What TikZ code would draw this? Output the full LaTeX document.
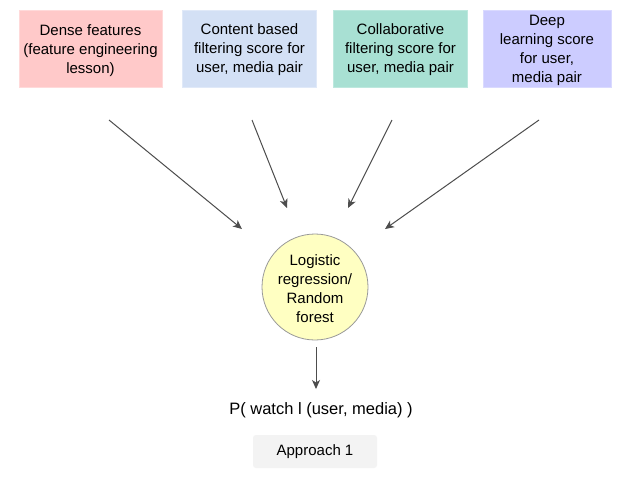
\documentclass[tikz,border=0pt]{standalone}
\usepackage{fontspec}
\setmainfont{Liberation Sans}
\usetikzlibrary{arrows.meta}
\definecolor{boxA}{HTML}{FFC9C9}
\definecolor{boxAb}{HTML}{FFDADA}
\definecolor{boxB}{HTML}{D3E0F5}
\definecolor{boxBb}{HTML}{E0E9F8}
\definecolor{boxC}{HTML}{A8E0D3}
\definecolor{boxCb}{HTML}{BDE8DE}
\definecolor{boxD}{HTML}{CCCCFF}
\definecolor{boxDb}{HTML}{DADAFF}
\definecolor{circ}{HTML}{FFFFC2}
\definecolor{circb}{HTML}{999999}
\definecolor{arr}{HTML}{4D4D4D}
\definecolor{apprbg}{HTML}{F3F3F3}
\tikzset{
  srcbox/.style={rectangle, inner sep=0pt, align=center, font=\fontsize{15}{19}\selectfont, line width=0.8pt},
  conn/.style={draw=arr, line width=1pt, -{Stealth[length=9pt,width=8pt,inset=2.5pt]}},
}
\begin{document}
\begin{tikzpicture}[x=1pt,y=-1pt]
\useasboundingbox (0,0) rectangle (629,483);
\fill[white] (0,0) rectangle (629,483);
% source boxes
\node[srcbox, fill=boxA, draw=boxAb, minimum width=143pt, minimum height=77pt] (b1) at (90.5,48.5) {};
\node[align=center, font=\fontsize{15}{19}\selectfont] (t1) at (90.5,51) {Dense features\\(feature engineering\\lesson)};
\node[srcbox, fill=boxB, draw=boxBb, minimum width=134pt, minimum height=77pt] (b2) at (249.5,48.5) {};
\node[align=center, font=\fontsize{15}{19}\selectfont] (t2) at (249.5,50) {Content based\\filtering score for\\user, media pair};
\node[srcbox, fill=boxC, draw=boxCb, minimum width=134pt, minimum height=77pt] (b3) at (400.5,48.5) {};
\node[align=center, font=\fontsize{15}{19}\selectfont] (t3) at (400.5,50) {Collaborative\\filtering score for\\user, media pair};
\node[srcbox, fill=boxD, draw=boxDb, minimum width=128pt, minimum height=77pt] (b4) at (547,48.5) {};
\node[align=center, font=\fontsize{15}{19}\selectfont] (t4) at (547,50) {Deep\\learning score\\for user,\\media pair};
% model circle
\node[circle, fill=circ, draw=circb, line width=0.8pt, minimum size=106pt, inner sep=0pt] (m) at (315,287) {};
\node[align=center, font=\fontsize{15}{19}\selectfont] (mt) at (315,289) {Logistic\\regression/\\Random\\forest};
% output text
\node[font=\fontsize{16.5}{20}\selectfont] (out) at (321,410) {P( watch l (user, media) )};
% approach label
\node[rectangle, rounded corners=3pt, fill=apprbg, minimum width=124pt, minimum height=33pt, font=\fontsize{15}{19}\selectfont] (ap) at (315,451.5) {Approach 1};
% connector ends
\coordinate (s1) at (109,120);
\coordinate (e1) at (242,229);
\coordinate (s2) at (252,120);
\coordinate (e2) at (287,208);
\coordinate (s3) at (392,120);
\coordinate (e3) at (348,208);
\coordinate (s4) at (539,120);
\coordinate (e4) at (385,229);
\coordinate (s5) at (316,347);
\coordinate (e5) at (316,389);
\draw[conn] (s1) -- (e1);
\draw[conn] (s2) -- (e2);
\draw[conn] (s3) -- (e3);
\draw[conn] (s4) -- (e4);
\draw[conn] (s5) -- (e5);
\end{tikzpicture}
\end{document}
